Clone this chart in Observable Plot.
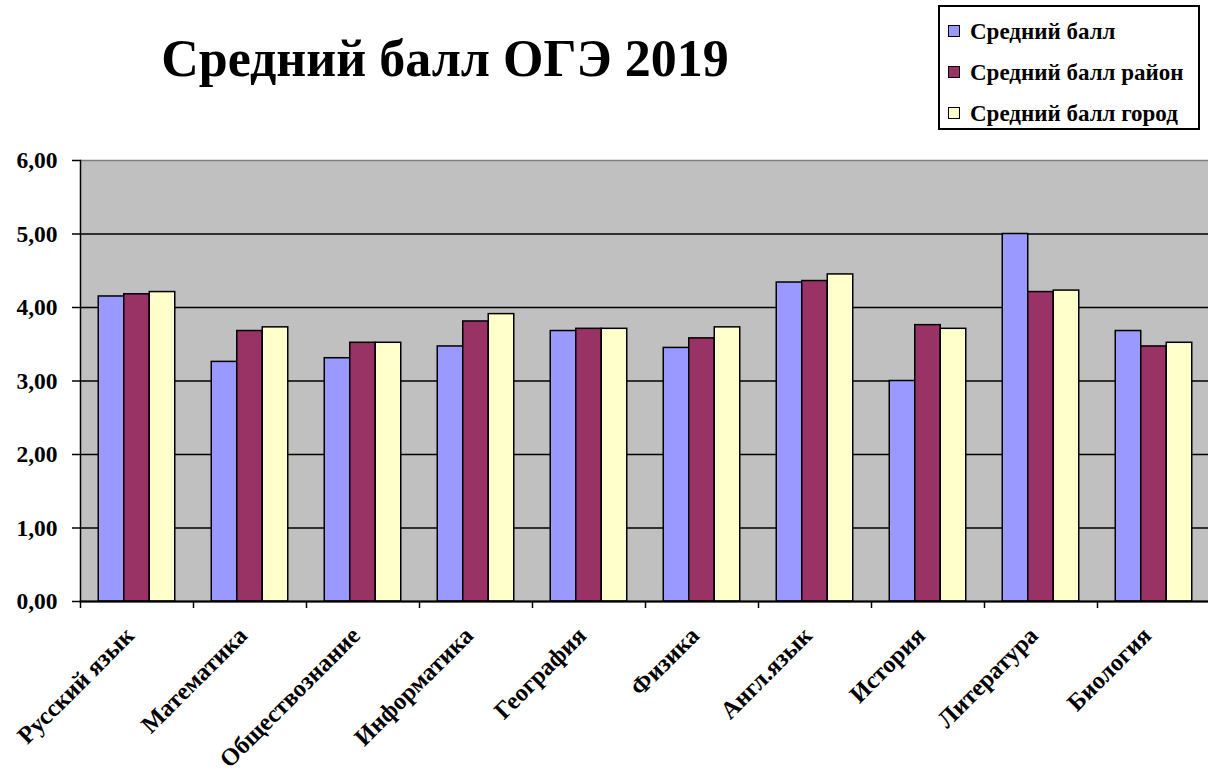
<!DOCTYPE html>
<html>
<head>
<meta charset="utf-8">
<script src="https://cdn.jsdelivr.net/npm/d3@7"></script>
<script src="https://cdn.jsdelivr.net/npm/@observablehq/plot@0.6"></script>
<style>
  body { margin: 0; background: #fff; font-family: "Liberation Serif", "Times New Roman", serif; }
  #wrap { position: relative; width: 1208px; height: 774px; overflow: hidden; }
  #title { position: absolute; left: 0; width: 890px; top: 29px; text-align: center; font-weight: bold; font-size: 52px; line-height: 60px; }
  #legend { position: absolute; left: 938px; top: 5px; width: 258px; height: 121px; border: 2px solid #000; background: #fff; box-sizing: content-box; }
  .item { position: absolute; left: 8px; font-weight: bold; font-size: 23px; line-height: 26px; white-space: nowrap; }
  .sw { display: inline-block; width: 10px; height: 10px; border: 1.5px solid #000; margin-right: 10px; vertical-align: 2px; }
  #chart { position: absolute; left: 0; top: 0; }
</style>
</head>
<body>
<div id="wrap">
  <div id="chart"></div>
  <div id="title">Средний балл ОГЭ 2019</div>
  <div id="legend"></div>
</div>
<script>
const categories = ["Русский язык", "Математика", "Обществознание", "Информатика", "География", "Физика", "Англ.язык", "История", "Литература", "Биология"];
const seriesNames = ["Средний балл", "Средний балл район", "Средний балл город"];
const school   = [4.15, 3.26, 3.31, 3.47, 3.68, 3.45, 4.34, 3.00, 5.00, 3.68];
const district = [4.18, 3.68, 3.52, 3.81, 3.71, 3.58, 4.36, 3.76, 4.21, 3.47];
const city     = [4.21, 3.73, 3.52, 3.91, 3.71, 3.73, 4.45, 3.71, 4.23, 3.52];
const yTicks = [0, 1, 2, 3, 4, 5, 6];
const colors = ["#9999ff", "#993366", "#ffffcc"];

const seriesValues = [school, district, city];
const data = [];
seriesValues.forEach((vals, s) => vals.forEach((v, i) => data.push({cat: categories[i], series: seriesNames[s], value: v})));

const W = 1208, H = 774;
const mL = 80, mR = -2, mT = 160, mB = 173;
const band = (W - mL - mR) / categories.length;
const barW = 25.5;
const inset = (band - barW) / 2;
const font = "Liberation Serif";

const barMarks = seriesNames.map((name, s) => Plot.barY(data.filter(d => d.series === name), {
  x: "cat", y: "value", fill: colors[s], stroke: "#000", strokeWidth: 1.5,
  insetLeft: inset, insetRight: inset, dx: (s - 1) * barW
}));

const chart = Plot.plot({
  width: W, height: H,
  marginLeft: mL, marginRight: mR, marginTop: mT, marginBottom: mB,
  style: {fontFamily: font, fontWeight: "bold", fontSize: "24.5px", color: "#000", background: "transparent", overflow: "hidden"},
  x: {domain: categories, padding: 0, axis: null},
  y: {domain: [0, 6], axis: null},
  marks: [
    Plot.frame({fill: "#c0c0c0", stroke: null}),
    Plot.gridY(yTicks.filter(t => t < 6), {stroke: "#000", strokeOpacity: 1, strokeWidth: 1.5}),
    Plot.gridY([6], {stroke: "#808080", strokeOpacity: 1, strokeWidth: 1.5}),
    ...barMarks,
    Plot.frame({anchor: "left", stroke: "#000", strokeWidth: 1.5}),
    Plot.frame({anchor: "bottom", stroke: "#000", strokeWidth: 2}),
    Plot.axisY({ticks: yTicks, tickSize: 8, tickPadding: 15, tickFormat: d => d.toFixed(2).replace(".", ","), fontSize: 23.5, fontWeight: "bold", label: null, strokeWidth: 1.5}),
    Plot.axisX({ticks: categories, tickSize: 7, tickFormat: () => "", dx: -band / 2, label: null, strokeWidth: 1.5}),
    Plot.axisX({ticks: [categories[categories.length - 1]], tickSize: 7, tickFormat: () => "", dx: band / 2, label: null, strokeWidth: 1.5}),
    Plot.axisX({ticks: categories, tickSize: 0, tickPadding: 30, dx: -7, tickRotate: -45, fontSize: 24.5, fontWeight: "bold", label: null})
  ]
});
document.getElementById("chart").appendChild(chart);

const legend = document.getElementById("legend");
seriesNames.forEach((name, s) => {
  const it = document.createElement("div");
  it.className = "item";
  it.style.top = (12 + s * 41) + "px";
  const sw = document.createElement("span");
  sw.className = "sw";
  sw.style.background = colors[s];
  it.appendChild(sw);
  it.appendChild(document.createTextNode(name));
  legend.appendChild(it);
});
</script>
</body>
</html>
